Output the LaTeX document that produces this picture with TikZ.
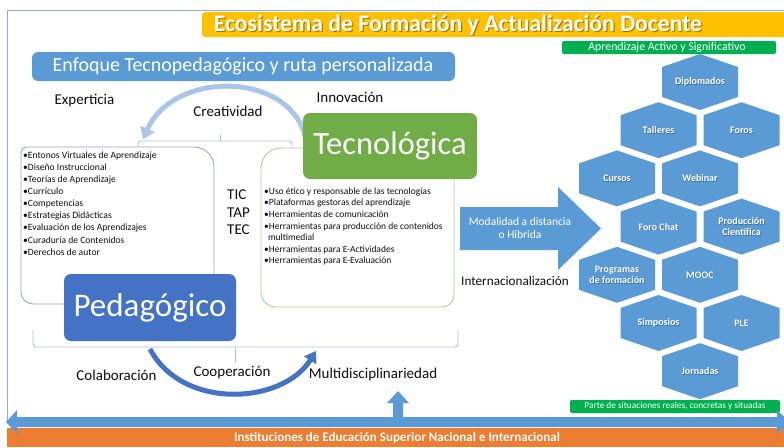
\documentclass[tikz,border=0pt]{standalone}
\usepackage{fontspec}
\setmainfont{Carlito}
\usetikzlibrary{arrows.meta,calc}
\definecolor{ttlyellow}{HTML}{FFC000}
\definecolor{mblue}{HTML}{5B9BD5}
\definecolor{dblue}{HTML}{4472C4}
\definecolor{lblue}{HTML}{A9C5E8}
\definecolor{gbar}{HTML}{00B050}
\definecolor{tgreen}{HTML}{70AD47}
\definecolor{lgreen}{HTML}{A9D18E}
\definecolor{orng}{HTML}{ED7D31}
\definecolor{framec}{HTML}{8FAADC}
\definecolor{boxblue}{HTML}{8EA9DB}
\definecolor{txt}{HTML}{0D0D0D}
\newcommand\fsz[1]{\fontsize{#1}{#1}\selectfont}
\newcommand\hexcell[4]{%
  \fill[hexfill] (#2,#3) ++(0,-28) -- ++(38,13) -- ++(0,30) -- ++(-38,13) -- ++(-38,-13) -- ++(0,-30) -- cycle;
  \node[hextxt, text=black, opacity=0.3] (#1s) at ($(#2,#3)+(0.7,0.7)$) {#4};
  \node[hextxt] (#1) at (#2,#3) {#4};}
\begin{document}
\begin{tikzpicture}[x=1pt,y=-1pt,
  lbl/.style={font=\fsz{15}, text=txt, inner sep=0},
  bul/.style={font=\fontsize{9.6}{12.1}\selectfont, align=left, inner sep=0, anchor=north west, text=txt},
  hexfill/.style={fill=mblue},
  hextxt/.style={font=\bfseries\fontsize{10}{11.5}\selectfont, text=white, align=center, inner sep=0},
  bracket/.style={draw=lblue, line width=0.9, rounded corners=3},
  wtxt/.style={text=white, inner sep=0},
]
\useasboundingbox (0,0) rectangle (784,447);
\fill[white] (0,0) rectangle (784,447);
% frame
\draw[framec, line width=0.8] (7,421) -- (7,10) -- (784,10);
% title
\fill[ttlyellow, rounded corners=3] (202,12) rectangle (790,37);
\node[wtxt, text=black, opacity=0.35, font=\bfseries\fsz{23.7}] (titlesh) at (459.2,25.8) {Ecosistema de Formación y Actualización Docente};
\node[wtxt, font=\bfseries\fsz{23.7}] (title) at (458,25) {Ecosistema de Formación y Actualización Docente};
% green bars
\fill[gbar, rounded corners=2] (562,41) rectangle (776,54);
\node[wtxt, font=\fsz{11.8}] (aprend) at (667,47.5) {Aprendizaje Activo y Significativo};
\fill[gbar, rounded corners=2] (570,400) rectangle (780,413);
\node[wtxt, font=\fsz{9.3}] (parte) at (675,406.5) {Parte de situaciones reales, concretas y situadas};
% enfoque banner
\fill[mblue, rounded corners=6] (32,52) rectangle (455,81);
\node[wtxt, font=\fsz{20}] (enfoque) at (243,66) {Enfoque Tecnopedagógico y ruta personalizada};
% labels top
\node[lbl] (expert) at (84.5,101) {Experticia};
\node[lbl] (creat) at (228,111) {Creatividad};
\node[lbl] (innov) at (350,97) {Innovación};
% light arc
\coordinate (arcA) at (306,141);
\coordinate (arcB) at (143,139);
\draw[lblue, line width=5, -{Triangle[length=11,width=15]}] (arcA) .. controls (295,72) and (175,68) .. (arcB);
% top bracket
\draw[bracket] (138,150) -- (138,141) -- (292,141) -- (292,150);
\draw[draw=lblue, line width=0.9] (220,141) -- (220,134);
% bottom bracket
\draw[bracket] (33,330) -- (33,347) -- (458,347) -- (458,330);
\draw[draw=lblue, line width=0.9] (235,347) -- (235,363);
% left box
\draw[draw=boxblue, line width=0.9, fill=white] (21,153) arc[start angle=180,end angle=270,radius=6] -- (194,147) arc[start angle=270,end angle=360,radius=20] -- (214,304) -- (33,304) arc[start angle=90,end angle=180,radius=12] -- cycle;
% right box
\draw[draw=lgreen, line width=0.9, fill=white] (261,168) arc[start angle=180,end angle=270,radius=20] -- (454,148) -- (454,295) arc[start angle=0,end angle=90,radius=12] -- (276,307) arc[start angle=90,end angle=180,radius=15] -- cycle;
% main boxes
\node[fill=dblue, rounded corners=7, minimum width=172, minimum height=67, inner sep=0, text=white, font=\fsz{33}] (ped) at (150,307.5) {Pedagógico};
\node[fill=tgreen, rounded corners=7, minimum width=174, minimum height=66, inner sep=0, text=white, font=\fsz{32.5}] (tec) at (390,146) {Tecnológica};
% lists
\node[bul] (plist) at (23,151.5) {•Entonos Virtuales de Aprendizaje\\•Diseño Instruccional\\•Teorías de Aprendizaje\\•Currículo\\•Competencias\\•Estrategias Didácticas\\•Evaluación de los Aprendizajes\\•Curaduría de Contenidos\\•Derechos de autor};
\node[bul, font=\fontsize{9.5}{11.6}\selectfont] (tlist) at (264,187.5) {•Uso ético y responsable de las tecnologías\\•Plataformas gestoras del aprendizaje\\•Herramientas de comunicación\\•Herramientas para producción de contenidos\\\hspace*{3.8pt}multimedial\\•Herramientas para E-Actividades\\•Herramientas para E-Evaluación};
% TIC TAP TEC
\node[lbl, anchor=west] (tic) at (227,195) {TIC};
\node[lbl, anchor=west] (tap) at (227,212.5) {TAP};
\node[lbl, anchor=west] (tecl) at (227,230) {TEC};
% dark arc
\coordinate (arcC) at (150,349);
\coordinate (arcD) at (316,351);
\draw[dblue, line width=5, -{Triangle[length=11,width=14]}] (arcC) .. controls (182,410) and (282,405) .. (arcD);
% bottom labels
\node[lbl] (colab) at (116.5,375) {Colaboración};
\node[lbl] (coop) at (232,373) {Cooperación};
\node[lbl] (multi) at (373,374) {Multidisciplinariedad};
\node[lbl, font=\fsz{13.2}] (inter) at (515,281) {Internacionalización};
% modalidad arrow
\fill[mblue] (460,207) -- (558,207) -- (558,187) -- (601,228.5) -- (558,270) -- (558,250) -- (460,250) -- cycle;
\node[wtxt, font=\fontsize{11.5}{13}\selectfont, align=center] (modal) at (520,228.5) {Modalidad a distancia\\o Hibrida};
% hexagons
\hexcell{hdip}{700}{82}{Diplomados}
\hexcell{htal}{658.5}{130.2}{Talleres}
\hexcell{hfor}{741.5}{130.2}{Foros}
\hexcell{hcur}{617}{178.4}{Cursos}
\hexcell{hweb}{700}{178.4}{Webinar}
\hexcell{hchat}{658.5}{226.6}{Foro Chat}
\hexcell{hprod}{741.5}{226.6}{Producción\\Científica}
\hexcell{hprog}{617}{274.8}{Programas\\de formación}
\hexcell{hmooc}{700}{274.8}{MOOC}
\hexcell{hsim}{658.5}{323}{Simposios}
\hexcell{hple}{741.5}{323}{PLE}
\hexcell{hjor}{700}{371.2}{Jornadas}
% bottom
\fill[orng] (7,428) rectangle (784,447);
\fill[mblue] (6,422) -- (17,410) -- (17,417) -- (393,417) -- (393,403) -- (387,403) -- (398,391) -- (409,403) -- (403,403) -- (403,417) -- (777,417) -- (777,410) -- (790,422) -- (777,434) -- (777,427) -- (17,427) -- (17,434) -- cycle;
\node[wtxt, font=\bfseries\fsz{13}] (inst) at (397,437.5) {Instituciones de Educación Superior Nacional e Internacional};
\end{tikzpicture}
\end{document}
